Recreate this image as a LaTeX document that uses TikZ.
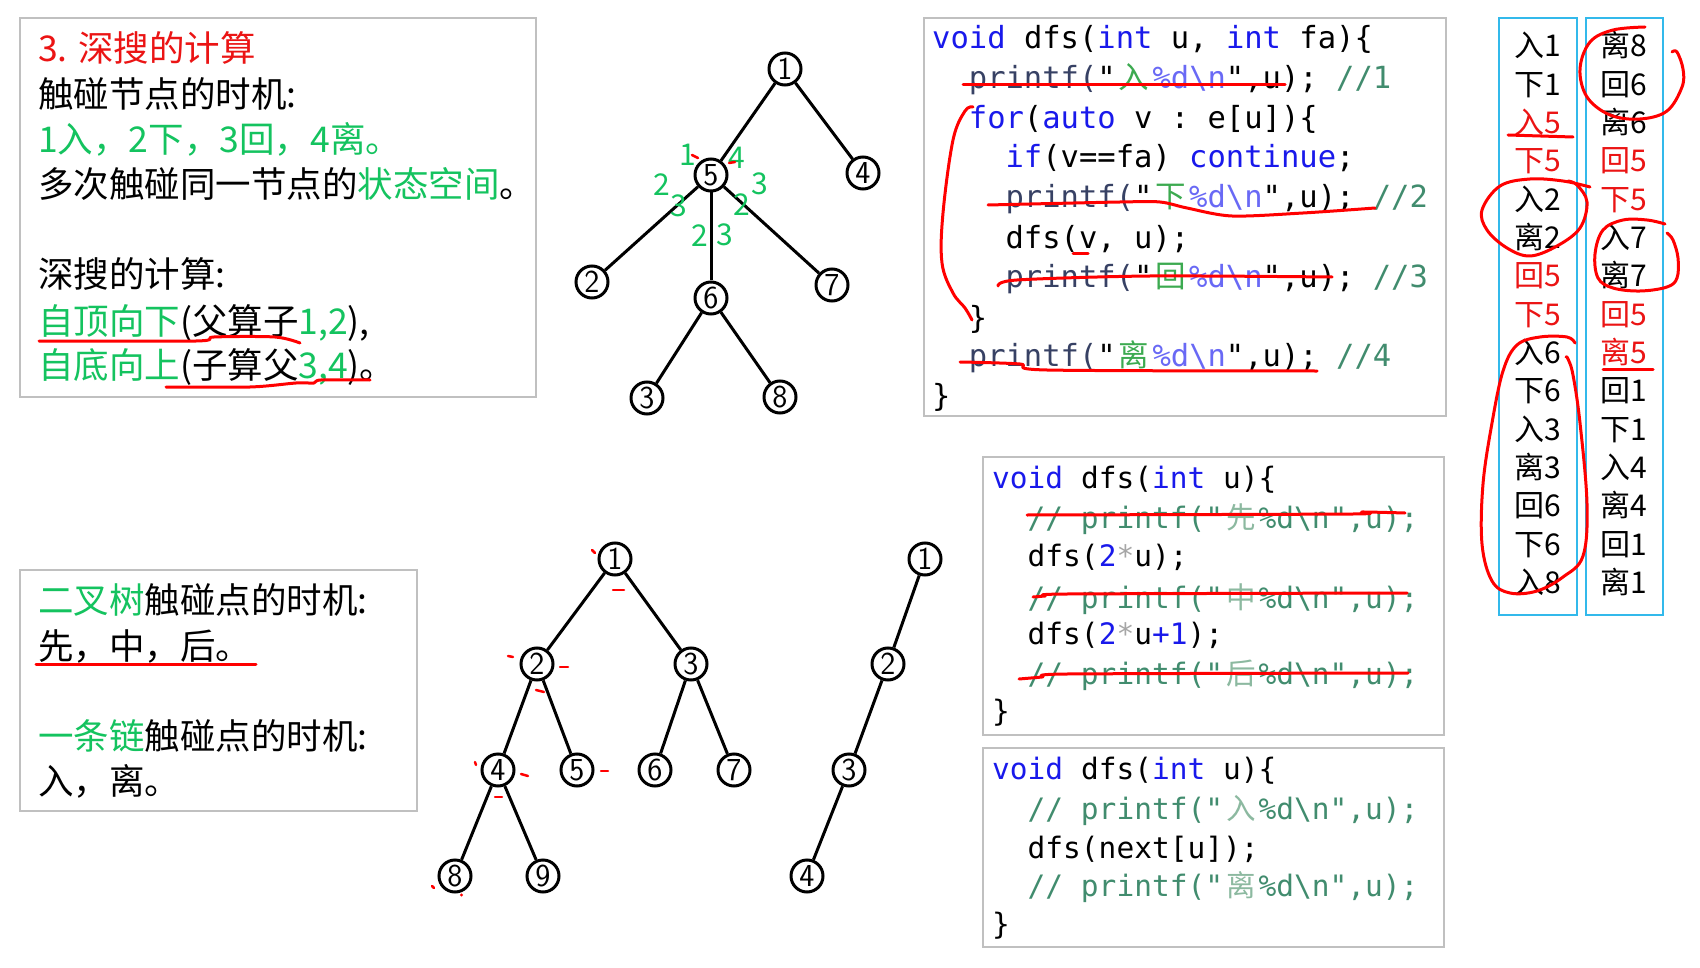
\documentclass[tikz,border=0pt]{standalone}
\usepackage{fontspec}
\setmainfont{Noto Sans CJK SC}
\setmonofont{DejaVu Sans Mono}
\newfontfamily\cjkfont{Noto Sans CJK SC}
\usepackage{xcolor}
\usetikzlibrary{positioning}

\definecolor{mint}{RGB}{20,195,95}
\definecolor{boxgray}{RGB}{192,192,192}
\definecolor{seqcyan}{RGB}{50,185,235}
\definecolor{kwblue}{RGB}{25,25,235}
\definecolor{fmtblue}{RGB}{105,105,245}
\definecolor{fnslate}{RGB}{55,65,100}
\definecolor{cngreen}{RGB}{60,170,80}
\definecolor{cmt}{RGB}{65,140,110}
\definecolor{cmtlight}{RGB}{140,185,160}
\definecolor{pen}{RGB}{255,0,0}
\definecolor{hot}{RGB}{235,20,20}

\newcommand\kw[1]{\textcolor{kwblue}{#1}}
\newcommand\cn[1]{\makebox[1.204em]{\cjkfont #1}}
\newcommand\fmt{\textcolor{fmtblue}{\%d\textbackslash n}}

\begin{document}
\begin{tikzpicture}[
    x=1pt, y=-1pt,
    box/.style={draw=boxgray, line width=2pt},
    seqbox/.style={draw=seqcyan, line width=2.5pt},
    vtx/.style={circle, draw, line width=3pt, minimum size=32pt, inner sep=0pt,
                font=\sffamily\fontsize{32}{32}\selectfont},
    edge/.style={line width=3pt},
    txt/.style={anchor=west, inner sep=0pt, text height=32pt, text depth=5.3pt,
                font=\fontsize{35.5}{42}\selectfont},
    glab/.style={inner sep=0pt, text=mint, font=\fontsize{30}{30}\selectfont},
    code/.style={anchor=west, inner sep=0pt, text height=27pt, text depth=5pt,
                 font=\ttfamily\fontsize{30.5}{36}\selectfont},
    codeb/.style={code, font=\ttfamily\fontsize{29.5}{36}\selectfont},
    col/.style={inner sep=0pt, text height=27pt, text depth=4.5pt,
                font=\fontsize{30}{30}\selectfont},
    redpen/.style={draw=pen, line width=3pt, line cap=round, line join=round}
]
\fill[white] (0,0) rectangle (1700,968);
\useasboundingbox (0,0) rectangle (1700,968);

% ---- frames ----
\draw[box] (19.5,18.4) rectangle (535.6,396.8);
\draw[box] (19.5,570)  rectangle (417,811);
\draw[box] (924,18)    rectangle (1446,416);
\draw[box] (983,457)   rectangle (1444,735);
\draw[box] (983,748)   rectangle (1444,947);
\draw[seqbox] (1499,18) rectangle (1577,615);
\draw[seqbox] (1586,18) rectangle (1663,615);

% ---- top-left notes ----
\node[txt, text=hot] (title) at (38,47.7) {3. 深搜的计算};
\node[txt] (when)  at (38,94)  {触碰节点的时机:};
\node[txt, text=mint] (order) at (38,139) {1入，2下，3回，4离。};
\node[txt] (state) at (38,184) {多次触碰同一节点的\textcolor{mint}{状态空间}。};
\node[txt] (calc)  at (38,274) {深搜的计算:};
\node[txt] (down)  at (38,321) {\textcolor{mint}{自顶向下}(父算子\textcolor{mint}{1,2}),};
\node[txt] (up)    at (38,365) {\textcolor{mint}{自底向上}(子算父\textcolor{mint}{3,4})。};

\draw[redpen] plot[smooth, tension=0.5] coordinates {(39,341) (196,341) (214,337) (275,337) (300,343)};
\draw[redpen] plot[smooth, tension=0.5] coordinates {(166,387) (250,387) (296,383) (314,383) (321,380) (370,380)};

% ---- bottom-left notes ----
\node[txt] (bin)    at (38,600) {\textcolor{mint}{二叉树}触碰点的时机:};
\node[txt] (binord) at (38,646) {先，中，后。};
\node[txt] (chain)  at (38,736) {\textcolor{mint}{一条链}触碰点的时机:};
\node[txt] (chord)  at (38,781) {入，离。};
\draw[redpen] (36,664) -- (256,664);

% ---- general tree ----
\node[vtx] (a1) at (785,69)  {1};
\node[vtx] (a5) at (711,175) {5};
\node[vtx] (a4) at (863,173) {4};
\node[vtx] (a2) at (592,282) {2};
\node[vtx] (a6) at (711,298) {6};
\node[vtx] (a7) at (832,285) {7};
\node[vtx] (a3) at (647,398) {3};
\node[vtx] (a8) at (780,397) {8};
\draw[edge] (a1) -- (a5);
\draw[edge] (a1) -- (a4);
\draw[edge] (a5) -- (a2);
\draw[edge] (a5) -- (a6);
\draw[edge] (a5) -- (a7);
\draw[edge] (a6) -- (a3);
\draw[edge] (a6) -- (a8);

\node[glab] (in5)   at (688,155) {1};
\node[glab] (out5)  at (737,158) {4};
\node[glab] (dn52)  at (662,185) {2};
\node[glab] (bk52)  at (679,206) {3};
\node[glab] (bk57)  at (760,184) {3};
\node[glab] (dn57)  at (742,205) {2};
\node[glab] (dn56)  at (700,236) {2};
\node[glab] (bk56)  at (725,235) {3};
\draw[redpen, line width=2.5pt] (692,155) -- (698,158);
\draw[redpen, line width=2.5pt] (729,163) -- (735,162);

% ---- binary tree ----
\node[vtx] (b1) at (615,559) {1};
\node[vtx] (b2) at (537,664) {2};
\node[vtx] (b3) at (691,664) {3};
\node[vtx] (b4) at (498,770) {4};
\node[vtx] (b5) at (577,770) {5};
\node[vtx] (b6) at (655,770) {6};
\node[vtx] (b7) at (734,770) {7};
\node[vtx] (b8) at (455,876) {8};
\node[vtx] (b9) at (543,876) {9};
\draw[edge] (b1) -- (b2);
\draw[edge] (b1) -- (b3);
\draw[edge] (b2) -- (b4);
\draw[edge] (b2) -- (b5);
\draw[edge] (b3) -- (b6);
\draw[edge] (b3) -- (b7);
\draw[edge] (b4) -- (b8);
\draw[edge] (b4) -- (b9);

\draw[redpen, line width=2.5pt] (592,550) -- (595,553);
\draw[redpen, line width=2.5pt] (613,590) -- (624,590);
\draw[redpen, line width=2.5pt] (508,656) -- (513,657);
\draw[redpen, line width=2.5pt] (560,667) -- (568,667);
\draw[redpen, line width=2.5pt] (536,690) -- (544,692);
\draw[redpen, line width=2.5pt] (475,762) -- (476,765);
\draw[redpen, line width=2.5pt] (521,774) -- (528,776);
\draw[redpen, line width=2.5pt] (495,797) -- (502,797);
\draw[redpen, line width=2.5pt] (601,771) -- (608,771);
\draw[redpen, line width=2.5pt] (432,886) -- (434,888);
\fill[pen] (461.5,895) circle (1.6);

% ---- chain ----
\node[vtx] (c1) at (925,559) {1};
\node[vtx] (c2) at (888,664) {2};
\node[vtx] (c3) at (849,770) {3};
\node[vtx] (c4) at (807,876) {4};
\draw[edge] (c1) -- (c2);
\draw[edge] (c2) -- (c3);
\draw[edge] (c3) -- (c4);

% ---- code: general dfs ----
\node[code] (k1)  at (932,38)    {\kw{void} dfs(\kw{int} u, \kw{int} fa)\{};
\node[code] (k2)  at (968.7,78)  {\textcolor{fnslate}{printf(}"\textcolor{cngreen}{\cn{入}}\fmt",u); \textcolor{cmt}{//1}};
\node[code] (k3)  at (968.7,118) {\kw{for}(\kw{auto} v : e[u])\{};
\node[code] (k4)  at (1005.4,157) {\kw{if}(v==fa) \kw{continue};};
\node[code] (k5)  at (1005.4,197) {\textcolor{fnslate}{printf(}"\textcolor{cngreen}{\cn{下}}\fmt",u); \textcolor{cmt}{//2}};
\node[code] (k6)  at (1005.4,238) {dfs(v, u);};
\node[code] (k7)  at (1005.4,277) {\textcolor{fnslate}{printf(}"\textcolor{cngreen}{\cn{回}}\fmt",u); \textcolor{cmt}{//3}};
\node[code] (k8)  at (968.7,317) {\}};
\node[code] (k9)  at (968.7,355) {\textcolor{fnslate}{printf(}"\textcolor{cngreen}{\cn{离}}\fmt",u); \textcolor{cmt}{//4}};
\node[code] (k10) at (932,395)   {\}};

\draw[redpen] (963,85) -- (1285,85);
\draw[redpen] plot[smooth, tension=0.6] coordinates {(973,107) (965,111) (953,140) (943,213) (942,263) (953,293) (965,308) (972,320)};
\draw[redpen] plot[smooth, tension=0.5] coordinates {(988,205) (1120,202) (1160,202) (1187,208) (1232,216) (1303,213) (1375,208)};
\draw[redpen] (1073,254) -- (1088,254);
\draw[redpen] plot[smooth, tension=0.5] coordinates {(998,286) (1017,280) (1150,276) (1332,277)};
\draw[redpen] plot[smooth, tension=0.5] coordinates {(960,362) (1020,364) (1047,370) (1317,371)};

% ---- code: binary tree ----
\node[codeb] (m1) at (992,477)    {\kw{void} dfs(\kw{int} u)\{};
\node[codeb, text=cmt] (m2) at (1027.5,517) {// printf("\textcolor{cmtlight}{\cn{先}}\%d\textbackslash n",u);};
\node[codeb] (m3) at (1027.5,555) {dfs(\kw{2}\textcolor{gray!70}{*}u);};
\node[codeb, text=cmt] (m4) at (1027.5,597) {// printf("\textcolor{cmtlight}{\cn{中}}\%d\textbackslash n",u);};
\node[codeb] (m5) at (1027.5,633) {dfs(\kw{2}\textcolor{gray!70}{*}u\kw{+1});};
\node[codeb, text=cmt] (m6) at (1027.5,673) {// printf("\textcolor{cmtlight}{\cn{后}}\%d\textbackslash n",u);};
\node[codeb] (m7) at (992,710)    {\}};

\draw[redpen] plot[smooth, tension=0.4] coordinates {(1027,515) (1353,514) (1362,512) (1405,513)};
\draw[redpen] plot[smooth, tension=0.4] coordinates {(1033,597) (1045,596) (1067,594) (1407,593)};
\draw[redpen] plot[smooth, tension=0.4] coordinates {(1019,679) (1042,677) (1067,674) (1408,673)};

% ---- code: chain ----
\node[codeb] (n1) at (992,768)    {\kw{void} dfs(\kw{int} u)\{};
\node[codeb, text=cmt] (n2) at (1027.5,808) {// printf("\textcolor{cmtlight}{\cn{入}}\%d\textbackslash n",u);};
\node[codeb] (n3) at (1027.5,847) {dfs(next[u]);};
\node[codeb, text=cmt] (n4) at (1027.5,885) {// printf("\textcolor{cmtlight}{\cn{离}}\%d\textbackslash n",u);};
\node[codeb] (n5) at (992,923)    {\}};

% ---- visit sequence ----
\node[col] (l0)  at (1538,45.5)  {入1};
\node[col] (l1)  at (1538,83.9)  {下1};
\node[col, text=hot] (l2)  at (1538,122.2) {入5};
\node[col, text=hot] (l3)  at (1538,160.6) {下5};
\node[col] (l4)  at (1538,198.9) {入2};
\node[col] (l5)  at (1538,237.3) {离2};
\node[col, text=hot] (l6)  at (1538,275.6) {回5};
\node[col, text=hot] (l7)  at (1538,314.0) {下5};
\node[col] (l8)  at (1538,352.3) {入6};
\node[col] (l9)  at (1538,390.7) {下6};
\node[col] (l10) at (1538,429.0) {入3};
\node[col] (l11) at (1538,467.4) {离3};
\node[col] (l12) at (1538,505.7) {回6};
\node[col] (l13) at (1538,544.1) {下6};
\node[col] (l14) at (1538,582.4) {入8};

\node[col] (r0)  at (1624,45.5)  {离8};
\node[col] (r1)  at (1624,83.9)  {回6};
\node[col] (r2)  at (1624,122.2) {离6};
\node[col, text=hot] (r3)  at (1624,160.6) {回5};
\node[col, text=hot] (r4)  at (1624,198.9) {下5};
\node[col] (r5)  at (1624,237.3) {入7};
\node[col] (r6)  at (1624,275.6) {离7};
\node[col, text=hot] (r7)  at (1624,314.0) {回5};
\node[col, text=hot] (r8)  at (1624,352.3) {离5};
\node[col] (r9)  at (1624,390.7) {回1};
\node[col] (r10) at (1624,429.0) {下1};
\node[col] (r11) at (1624,467.4) {入4};
\node[col] (r12) at (1624,505.7) {离4};
\node[col] (r13) at (1624,544.1) {回1};
\node[col] (r14) at (1624,582.4) {离1};

\draw[redpen] (1508,135) -- (1573,137);
\draw[redpen] (1603,369) -- (1653,369);
\draw[redpen] plot[smooth, tension=0.6] coordinates {(1590,187) (1563,181) (1530,179) (1500,186) (1482,210) (1487,230) (1507,248) (1530,256) (1557,246) (1580,228) (1587,202) (1577,185) (1568,181)};
\draw[redpen] plot[smooth, tension=0.6] coordinates {(1645,27) (1613,30) (1590,42) (1580,69) (1587,97) (1610,115) (1640,119) (1667,111) (1682,87) (1683,69) (1677,52) (1672,52)};
\draw[redpen] plot[smooth, tension=0.6] coordinates {(1665,224) (1647,220) (1623,220) (1603,230) (1595,254) (1598,278) (1613,288) (1640,291) (1667,287) (1677,278) (1678,258) (1673,240) (1667,233)};
\draw[redpen] plot[smooth, tension=0.6] coordinates {(1575,343) (1567,337) (1540,337) (1517,345) (1503,371) (1492,423) (1483,484) (1482,544) (1492,581) (1510,593) (1537,591) (1563,577) (1583,556) (1587,504) (1580,423) (1573,375) (1568,359) (1566,357)};

\end{tikzpicture}
\end{document}
